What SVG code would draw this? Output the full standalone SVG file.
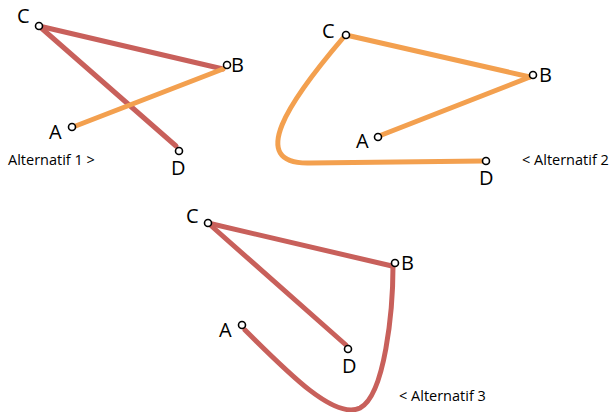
<svg xmlns="http://www.w3.org/2000/svg" width="613" height="412" viewBox="0 0 613 412">
<style>
.red{stroke:#c8605b;stroke-width:5;fill:none;stroke-linecap:round}
.org{stroke:#f3a04f;stroke-width:5;fill:none;stroke-linecap:round}
.pt{fill:#fff;stroke:#000;stroke-width:1.6}
.lbl{font-family:"Open Sans","Liberation Sans",sans-serif;font-size:20px;fill:#000}
.cap{font-family:"Open Sans","Liberation Sans",sans-serif;font-size:14.5px;fill:#000}
</style>
<rect width="613" height="412" fill="#fff"/>
<g id="connectors">
  <line class="red" x1="39" y1="26" x2="223" y2="69"/>
  <line class="red" x1="39" y1="26" x2="176" y2="146"/>
  <line class="org" x1="73" y1="127" x2="223" y2="69"/>
  <line class="org" x1="346" y1="35" x2="530" y2="77"/>
  <line class="org" x1="379" y1="136" x2="530" y2="77"/>
  <path class="org" d="M343,38 C290,100 245,165 310,163 L483,161"/>
  <line class="red" x1="208" y1="223" x2="392" y2="266"/>
  <line class="red" x1="208" y1="223" x2="346" y2="345"/>
  <path class="red" d="M245,330 C290,375 335,420 360,408 C385,395 393,310 393,266"/>
</g>
<g id="p1-C"><circle class="pt" cx="39" cy="26" r="3.5"/><text class="lbl" x="17" y="23">C</text></g>
<g id="p1-B"><circle class="pt" cx="227" cy="65" r="3.5"/><text class="lbl" x="231" y="72">B</text></g>
<g id="p1-A"><circle class="pt" cx="72" cy="127" r="3.5"/><text class="lbl" x="49" y="139">A</text></g>
<g id="p1-D"><circle class="pt" cx="179" cy="151" r="3.5"/><text class="lbl" x="171" y="175">D</text></g>
<g id="cap1"><text class="cap" x="8" y="165">Alternatif 1 &gt;</text></g>
<g id="p2-C"><circle class="pt" cx="346" cy="35" r="3.5"/><text class="lbl" x="322" y="38">C</text></g>
<g id="p2-B"><circle class="pt" cx="533" cy="75" r="3.5"/><text class="lbl" x="539" y="82">B</text></g>
<g id="p2-A"><circle class="pt" cx="378" cy="137" r="3.5"/><text class="lbl" x="356" y="148">A</text></g>
<g id="p2-D"><circle class="pt" cx="486" cy="161" r="3.5"/><text class="lbl" x="479" y="185">D</text></g>
<g id="cap2"><text class="cap" x="522" y="165">&lt; Alternatif 2</text></g>
<g id="p3-C"><circle class="pt" cx="208" cy="223" r="3.5"/><text class="lbl" x="186" y="223">C</text></g>
<g id="p3-B"><circle class="pt" cx="395" cy="263" r="3.5"/><text class="lbl" x="401" y="270">B</text></g>
<g id="p3-A"><circle class="pt" cx="242" cy="325" r="3.5"/><text class="lbl" x="219" y="337">A</text></g>
<g id="p3-D"><circle class="pt" cx="348" cy="349" r="3.5"/><text class="lbl" x="342" y="373">D</text></g>
<g id="cap3"><text class="cap" x="399" y="401">&lt; Alternatif 3</text></g>
</svg>
